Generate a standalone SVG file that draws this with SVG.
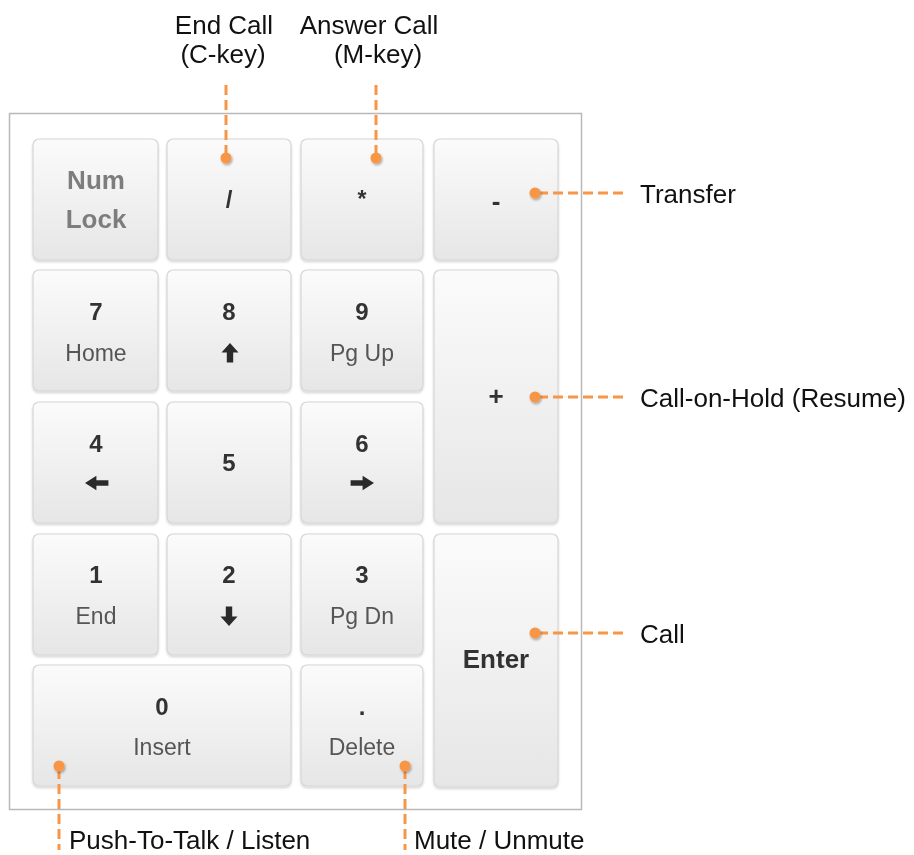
<svg xmlns="http://www.w3.org/2000/svg" xmlns:xlink="http://www.w3.org/1999/xlink" width="914" height="855" viewBox="0 0 914 855">
<style>
text{font-family:"Liberation Sans",Arial,sans-serif;text-anchor:middle}
.key{fill:url(#kg);stroke:#d6d6d6;stroke-width:1.2}
.num{font-size:24px;font-weight:bold;fill:#333}
.sub{font-size:23px;fill:#555}
.nl{font-size:26px;font-weight:bold;fill:#7d7d7d}
.big{font-size:26px;font-weight:bold;fill:#333}
.lbl{font-size:26px;fill:#111}
.lbl.l{text-anchor:start}
.ico{fill:#2b2b2b}
.dash{stroke:#F79646;stroke-width:3;stroke-dasharray:10 5;fill:none}
.dot{fill:#F79646;filter:url(#ds)}
</style>
<defs>
<linearGradient id="kg" x1="0" y1="0" x2="0" y2="1">
<stop offset="0" stop-color="#fbfbfb"/>
<stop offset="1" stop-color="#e6e6e6"/>
</linearGradient>
<filter id="ks" x="-10%" y="-10%" width="120%" height="120%">
<feDropShadow dx="0" dy="1.5" stdDeviation="1.2" flood-color="#000" flood-opacity="0.18"/>
</filter>
<filter id="ds" x="-60%" y="-60%" width="220%" height="220%">
<feDropShadow dx="1" dy="1.5" stdDeviation="1" flood-color="#000" flood-opacity="0.35"/>
</filter>
<path id="arr" d="M0,-10 L8.5,-0.5 L3.2,-0.5 L3.2,9.5 L-3.2,9.5 L-3.2,-0.5 L-8.5,-0.5 Z"/>
</defs>
<rect width="914" height="855" fill="#fff"/>
<rect id="frame" x="9.5" y="113.5" width="572" height="696" fill="#fff" stroke="#b9b9b9" stroke-width="1.5"/>

<g filter="url(#ks)">
<g id="key-numlock"><rect class="key" x="33" y="139" width="125" height="121" rx="6"/><text class="nl" x="96" y="189">Num</text><text class="nl" x="96" y="228">Lock</text></g>
<g id="key-slash"><rect class="key" x="167" y="139" width="124" height="121" rx="6"/><text class="num" x="229" y="208">/</text></g>
<g id="key-star"><rect class="key" x="301" y="139" width="122" height="121" rx="6"/><text class="num" x="362" y="207" style="font-size:23px">*</text></g>
<g id="key-minus"><rect class="key" x="434" y="139" width="124" height="121" rx="6"/><text class="big" x="496" y="210">-</text></g>

<g id="key-7"><rect class="key" x="33" y="270" width="125" height="121" rx="6"/><text class="num" x="96" y="320">7</text><text class="sub" x="96" y="361">Home</text></g>
<g id="key-8"><rect class="key" x="167" y="270" width="124" height="121" rx="6"/><text class="num" x="229" y="320">8</text><use xlink:href="#arr" class="ico" transform="translate(230,353)"/></g>
<g id="key-9"><rect class="key" x="301" y="270" width="122" height="121" rx="6"/><text class="num" x="362" y="320">9</text><text class="sub" x="362" y="361">Pg Up</text></g>
<g id="key-plus"><rect class="key" x="434" y="270" width="124" height="253" rx="6"/><text class="big" x="496" y="405">+</text></g>

<g id="key-4"><rect class="key" x="33" y="402" width="125" height="121" rx="6"/><text class="num" x="96" y="452">4</text><use xlink:href="#arr" class="ico" transform="translate(97,483) rotate(-90) scale(0.85,1.2)"/></g>
<g id="key-5"><rect class="key" x="167" y="402" width="124" height="121" rx="6"/><text class="num" x="229" y="471">5</text></g>
<g id="key-6"><rect class="key" x="301" y="402" width="122" height="121" rx="6"/><text class="num" x="362" y="452">6</text><use xlink:href="#arr" class="ico" transform="translate(362,483) rotate(90) scale(0.85,1.2)"/></g>

<g id="key-1"><rect class="key" x="33" y="534" width="125" height="121" rx="6"/><text class="num" x="96" y="583">1</text><text class="sub" x="96" y="624">End</text></g>
<g id="key-2"><rect class="key" x="167" y="534" width="124" height="121" rx="6"/><text class="num" x="229" y="583">2</text><use xlink:href="#arr" class="ico" transform="translate(229,616) rotate(180)"/></g>
<g id="key-3"><rect class="key" x="301" y="534" width="122" height="121" rx="6"/><text class="num" x="362" y="583">3</text><text class="sub" x="362" y="624">Pg Dn</text></g>
<g id="key-enter"><rect class="key" x="434" y="534" width="124" height="253" rx="6"/><text class="big" x="496" y="668">Enter</text></g>

<g id="key-0"><rect class="key" x="33" y="665" width="258" height="121" rx="6"/><text class="num" x="162" y="715">0</text><text class="sub" x="162" y="755">Insert</text></g>
<g id="key-dot"><rect class="key" x="301" y="665" width="122" height="121" rx="6"/><text class="num" x="362" y="715">.</text><text class="sub" x="362" y="755">Delete</text></g>
</g>

<g id="connectors">
<line class="dash" x1="226" y1="85" x2="226" y2="156"/>
<line class="dash" x1="376" y1="85" x2="376" y2="156"/>
<line class="dash" x1="538" y1="193" x2="628" y2="193"/>
<line class="dash" x1="538" y1="397" x2="628" y2="397"/>
<line class="dash" x1="538" y1="633" x2="628" y2="633"/>
<line class="dash" x1="59" y1="769" x2="59" y2="850"/>
<line class="dash" x1="405" y1="769" x2="405" y2="850"/>
<circle class="dot" cx="226" cy="158" r="5.5"/>
<circle class="dot" cx="376" cy="158" r="5.5"/>
<circle class="dot" cx="535" cy="193" r="5.5"/>
<circle class="dot" cx="535" cy="397" r="5.5"/>
<circle class="dot" cx="535" cy="633" r="5.5"/>
<circle class="dot" cx="59" cy="766" r="5.5"/>
<circle class="dot" cx="405" cy="766" r="5.5"/>
</g>

<g id="labels">
<text class="lbl" x="224" y="34">End Call</text>
<text class="lbl" x="223" y="63">(C-key)</text>
<text class="lbl" x="369" y="34">Answer Call</text>
<text class="lbl" x="378" y="63">(M-key)</text>
<text class="lbl l" x="640" y="203">Transfer</text>
<text class="lbl l" x="640" y="407">Call-on-Hold (Resume)</text>
<text class="lbl l" x="640" y="643">Call</text>
<text class="lbl l" x="69" y="849">Push-To-Talk / Listen</text>
<text class="lbl l" x="414" y="849">Mute / Unmute</text>
</g>
</svg>
